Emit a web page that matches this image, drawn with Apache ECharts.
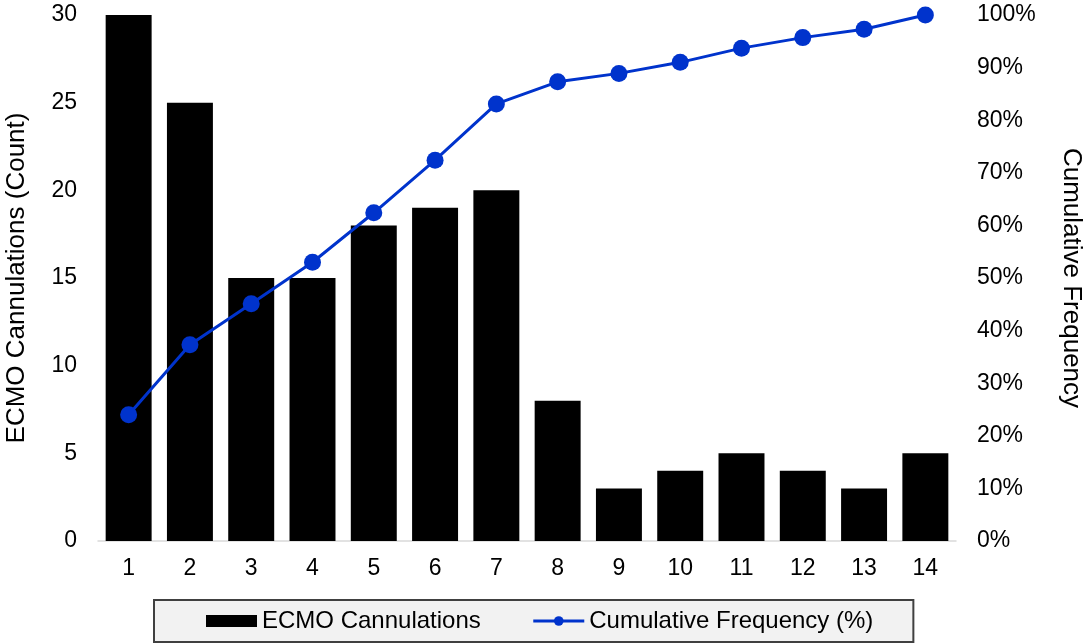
<!DOCTYPE html>
<html>
<head>
<meta charset="utf-8">
<script src="https://cdn.jsdelivr.net/npm/echarts@6/dist/echarts.min.js"></script>
<style>
  html, body { margin: 0; padding: 0; background: #fff; }
  #chart { width: 1085px; height: 644px; }
</style>
</head>
<body>
<div id="chart"></div>
<script>
// Pareto chart: ECMO cannulations per category with cumulative frequency
const categories = ['1', '2', '3', '4', '5', '6', '7', '8', '9', '10', '11', '12', '13', '14'];
const cannulations = [30, 25, 15, 15, 18, 19, 20, 8, 3, 4, 5, 4, 3, 5];
const cumulativePct = [24.0, 37.3, 45.1, 53.0, 62.4, 72.4, 83.1, 87.3, 88.9, 91.0, 93.7, 95.7, 97.3, 100];

const FONT = '"Liberation Sans", Arial, sans-serif';
const TEXT = '#000';
const BLUE = '#0033cc';

const chart = echarts.init(document.getElementById('chart'), null, { renderer: 'canvas' });

chart.setOption({
  animation: false,
  backgroundColor: '#fff',
  textStyle: { fontFamily: FONT, color: TEXT },
  grid: { left: 98, right: 129, top: 15, bottom: 103, containLabel: false, outerBoundsMode: 'none' },
  legend: {
    bottom: 2,
    left: 154,
    backgroundColor: '#f2f2f2',
    borderColor: '#404040',
    borderWidth: 2,
    borderRadius: 0,
    padding: [9, 40, 9, 52],
    itemGap: 51,
    itemWidth: 51,
    itemHeight: 12,
    textStyle: { fontFamily: FONT, fontSize: 24, color: TEXT },
    data: [
      { name: 'ECMO Cannulations', icon: 'rect' },
      { name: 'Cumulative Frequency (%)', lineStyle: { width: 3 } }
    ]
  },
  xAxis: {
    type: 'category',
    data: categories,
    axisLine: { show: true, lineStyle: { color: '#d9d9d9', width: 1.5 } },
    axisTick: { show: false },
    axisLabel: { fontFamily: FONT, fontSize: 23, color: TEXT, margin: 16 }
  },
  yAxis: [
    {
      type: 'value',
      min: 0,
      max: 30,
      interval: 5,
      name: 'ECMO Cannulations (Count)',
      nameLocation: 'middle',
      nameGap: 68,
      nameRotate: 90,
      nameTextStyle: { fontFamily: FONT, fontSize: 26, color: TEXT },
      axisLine: { show: false },
      axisTick: { show: false },
      splitLine: { show: false },
      axisLabel: { fontFamily: FONT, fontSize: 23, color: TEXT, margin: 21 }
    },
    {
      type: 'value',
      min: 0,
      max: 100,
      interval: 10,
      name: 'Cumulative Frequency',
      nameLocation: 'middle',
      nameGap: 102,
      nameRotate: -90,
      nameTextStyle: { fontFamily: FONT, fontSize: 26, color: TEXT },
      axisLine: { show: false },
      axisTick: { show: false },
      splitLine: { show: false },
      axisLabel: { fontFamily: FONT, fontSize: 23, color: TEXT, margin: 21, formatter: '{value}%' }
    }
  ],
  series: [
    {
      name: 'ECMO Cannulations',
      type: 'bar',
      yAxisIndex: 0,
      data: cannulations,
      barCategoryGap: '25%',
      itemStyle: { color: '#000' }
    },
    {
      name: 'Cumulative Frequency (%)',
      type: 'line',
      yAxisIndex: 1,
      data: cumulativePct,
      symbol: 'circle',
      symbolSize: 17,
      lineStyle: { color: BLUE, width: 3 },
      itemStyle: { color: BLUE }
    }
  ]
});
</script>
</body>
</html>
